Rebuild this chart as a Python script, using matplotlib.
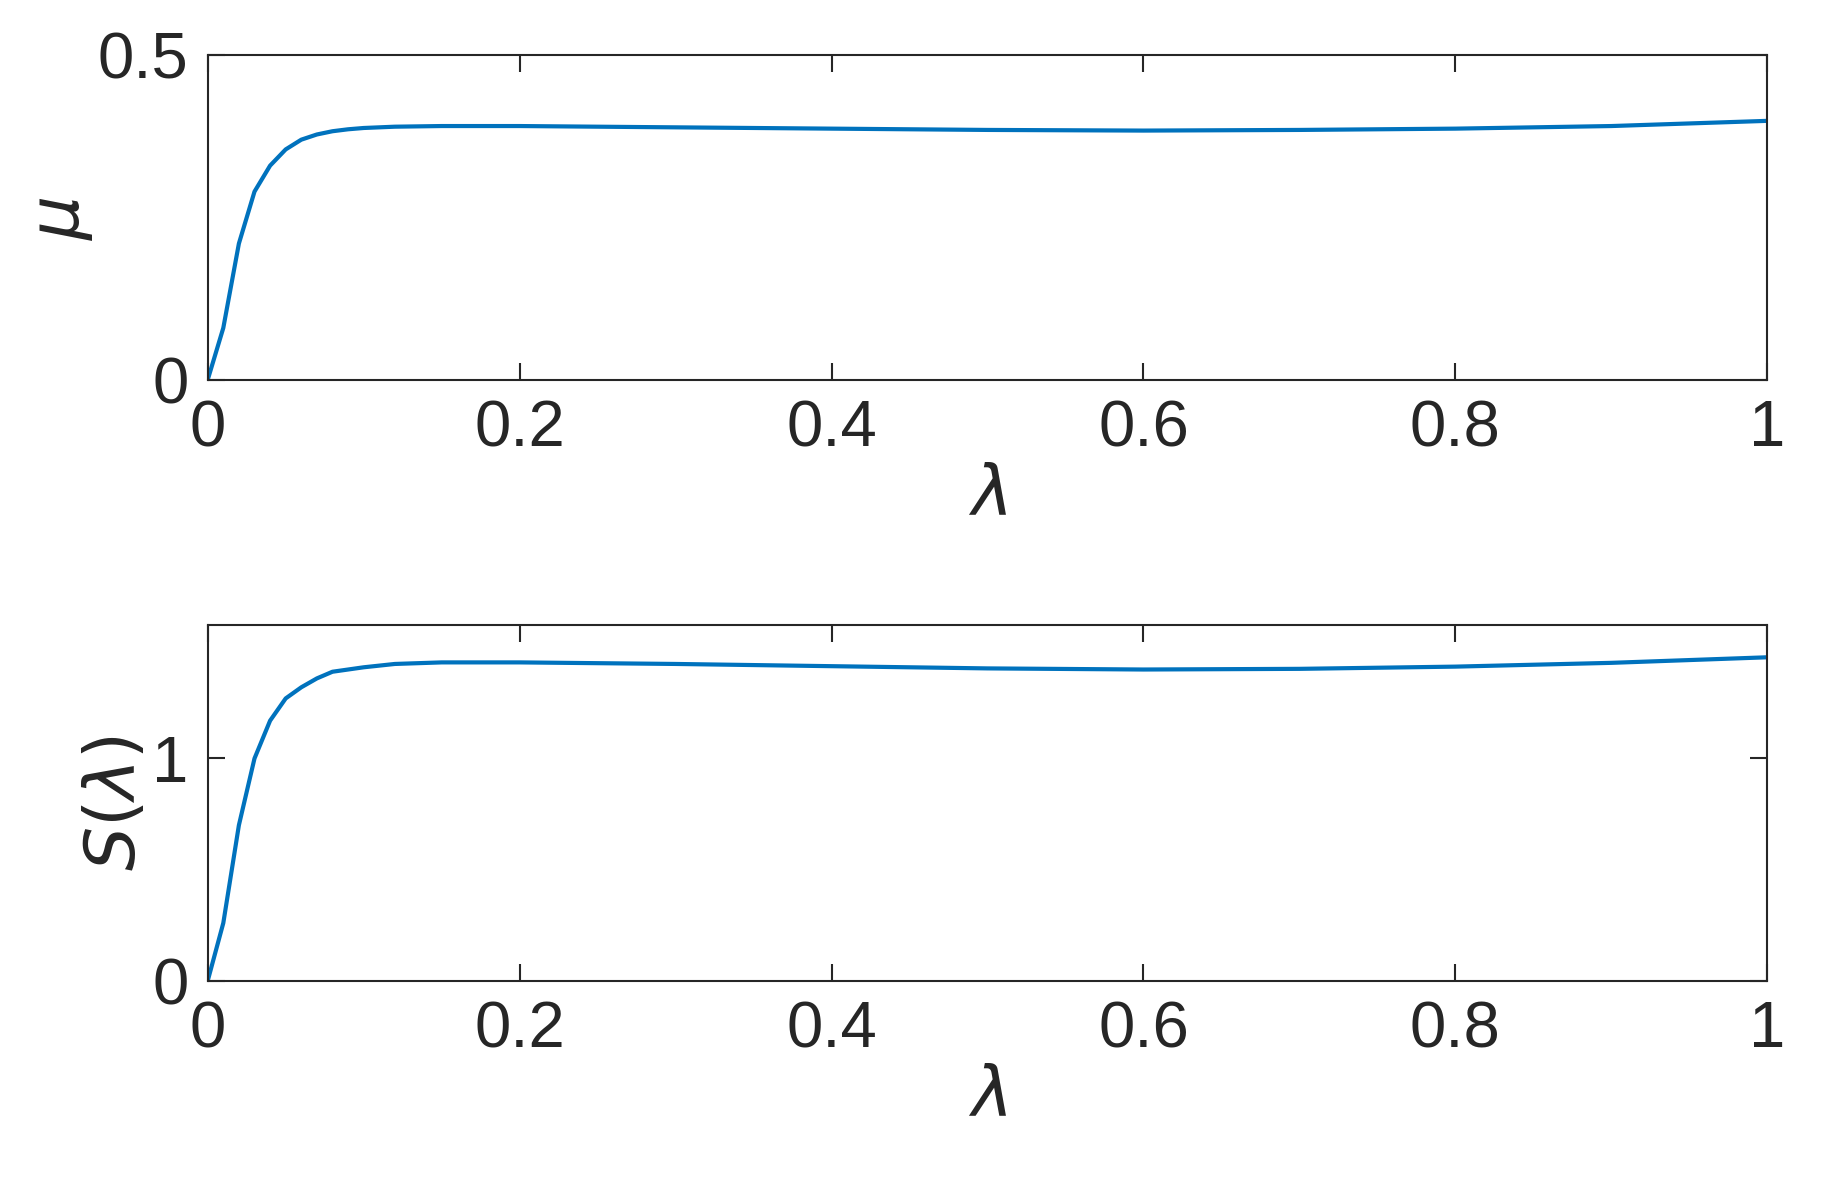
import matplotlib
matplotlib.use("Agg")
import matplotlib.pyplot as plt

plt.rcParams['font.family'] = ['Liberation Sans', 'DejaVu Sans']
plt.rcParams['mathtext.fontset'] = 'dejavusans'

lam = [0, 0.01, 0.02, 0.03, 0.04, 0.05, 0.06, 0.07, 0.08, 0.09, 0.1, 0.12, 0.15,
       0.2, 0.3, 0.4, 0.5, 0.6, 0.7, 0.8, 0.9, 1.0]
mu = [0, 0.08, 0.21, 0.29, 0.33, 0.355, 0.37, 0.378, 0.383, 0.386, 0.388, 0.390, 0.391,
      0.391, 0.389, 0.387, 0.385, 0.384, 0.385, 0.387, 0.391, 0.399]
S = [0, 0.26, 0.70, 1.00, 1.17, 1.27, 1.32, 1.36, 1.39, 1.40, 1.41, 1.425, 1.432,
     1.432, 1.425, 1.415, 1.405, 1.400, 1.403, 1.413, 1.43, 1.455]

GREY = '#262626'
fig = plt.figure(figsize=(18.22, 12.02), dpi=100)
ax1 = fig.add_axes([0.114, 0.684, 0.856, 0.270])
ax2 = fig.add_axes([0.114, 0.184, 0.856, 0.296])

for ax, y, ylim, yt, ylab in [(ax1, mu, (0, 0.5), [0, 0.5], r'$\mu$'),
                              (ax2, S, (0, 1.6), [0, 1], r'$S(\lambda)$')]:
    ax.plot(lam, y, color='#0072BD', lw=3)
    ax.set_xlim(0, 1)
    ax.set_ylim(*ylim)
    ax.set_xticks([0, 0.2, 0.4, 0.6, 0.8, 1])
    ax.set_xticklabels(['0', '0.2', '0.4', '0.6', '0.8', '1'])
    ax.set_yticks(yt)
    ax.set_yticklabels([f'{v:g}' for v in yt])
    ax.tick_params(direction='in', length=12, width=1.5, labelsize=47,
                   colors=GREY, top=True, right=True, pad=14)
    for s in ax.spines.values():
        s.set_linewidth(1.5)
        s.set_color(GREY)
    ax.set_xlabel(r'$\lambda$', fontsize=50, color=GREY, labelpad=4)
    ax.set_ylabel(ylab, fontsize=50, color=GREY, labelpad=2)

fig.savefig('out.png', dpi=100)
